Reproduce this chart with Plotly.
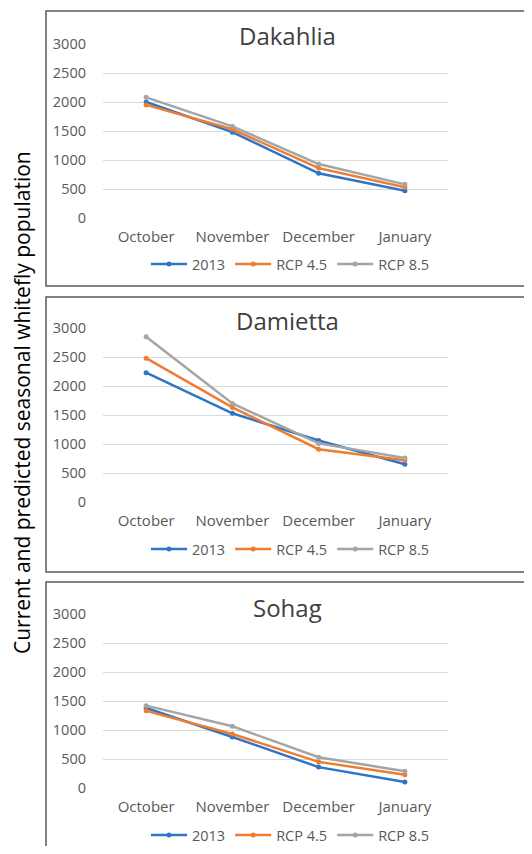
import plotly.graph_objects as go

months = ["October", "November", "December", "January"]
regions = ["Dakahlia", "Damietta", "Sohag"]
series_names = ["2013", "RCP 4.5", "RCP 8.5"]

dakahlia_2013 = [2000, 1480, 770, 470]
dakahlia_rcp45 = [1950, 1530, 860, 530]
dakahlia_rcp85 = [2080, 1580, 930, 580]

damietta_2013 = [2230, 1530, 1060, 650]
damietta_rcp45 = [2480, 1630, 910, 720]
damietta_rcp85 = [2850, 1700, 1010, 760]

sohag_2013 = [1380, 880, 360, 105]
sohag_rcp45 = [1330, 930, 450, 230]
sohag_rcp85 = [1420, 1065, 530, 290]

y_ticks = [0, 500, 1000, 1500, 2000, 2500, 3000]

data = [
    [dakahlia_2013, dakahlia_rcp45, dakahlia_rcp85],
    [damietta_2013, damietta_rcp45, damietta_rcp85],
    [sohag_2013, sohag_rcp45, sohag_rcp85],
]
colors = ["#2E75C6", "#ED7D31", "#A5A5A5"]

# page is 532x854; the html body has an 8px margin, so the figure is 516x838
OFF = 8
W, H = 532 - 2 * OFF, 854 - 2 * OFF
def px_x(v): return (v - OFF) / W
def px_y(v): return 1 - (v - OFF) / H

FONT = "Open Sans, Liberation Sans, sans-serif"

# panel layout in page pixels: (grid top 3000, grid bottom 0, box top, box bottom, title y, legend y)
panels = [
    (44, 218, 11, 286, 35, 264),
    (328, 502, 297, 572, 321, 549),
    (614, 788, 582, 870, 607, 835),
]

fig = go.Figure()
shapes = []
annotations = []
layout = {}
for i, (reg, vals, p) in enumerate(zip(regions, data, panels)):
    top, bot, btop, bbot, ty, ly = p
    ax = "" if i == 0 else str(i + 1)
    leg = "legend" if i == 0 else f"legend{i+1}"
    for name, v, c in zip(series_names, vals, colors):
        fig.add_trace(go.Scatter(
            x=months, y=v, name=name, mode="lines+markers",
            line=dict(color=c, width=2.5), marker=dict(color=c, size=5),
            xaxis="x" + ax, yaxis="y" + ax, legend=leg,
        ))
    layout["xaxis" + ax] = dict(
        domain=[px_x(103), px_x(448)], anchor="y" + ax, range=[-0.5, 3.5],
        showgrid=False, showline=False, zeroline=False, ticks="",
        tickfont=dict(family=FONT, size=15, color="#595959"),
        ticklabelstandoff=8, fixedrange=True,
    )
    layout["yaxis" + ax] = dict(
        domain=[px_y(bot), px_y(top)], anchor="x" + ax, range=[0, 3000],
        tickvals=y_ticks, ticktext=[str(t) for t in y_ticks],
        showgrid=True, gridcolor="#D9D9D9", gridwidth=1, zeroline=False,
        showline=False, ticks="",
        tickfont=dict(family=FONT, size=14.5, color="#595959"),
        ticklabelstandoff=16,
    )
    layout[leg] = dict(
        orientation="h", x=px_x(146), xanchor="left", y=px_y(ly), yanchor="middle",
        font=dict(family=FONT, size=14.5, color="#595959"),
        bgcolor="rgba(0,0,0,0)", itemwidth=36, tracegroupgap=0,
    )
    shapes.append(dict(type="rect", xref="paper", yref="paper",
                       x0=px_x(46), x1=px_x(580), y0=px_y(bbot), y1=px_y(btop),
                       line=dict(color="#595959", width=1.5), fillcolor="rgba(0,0,0,0)"))
    annotations.append(dict(text=reg, xref="paper", yref="paper", x=px_x(287), y=px_y(ty),
                            xanchor="center", yanchor="middle", showarrow=False,
                            font=dict(family=FONT, size=24, color="#404040")))

annotations.append(dict(text="Current and predicted seasonal whitefly population",
                        xref="paper", yref="paper", x=px_x(22), y=px_y(403), textangle=-90,
                        xanchor="center", yanchor="middle", showarrow=False,
                        font=dict(family=FONT, size=21, color="#000000")))

fig.update_layout(
    width=W, height=H, margin=dict(l=0, r=0, t=0, b=0, autoexpand=False),
    paper_bgcolor="white", plot_bgcolor="white",
    shapes=shapes, annotations=annotations, **layout,
)
fig.write_html("out.html")
